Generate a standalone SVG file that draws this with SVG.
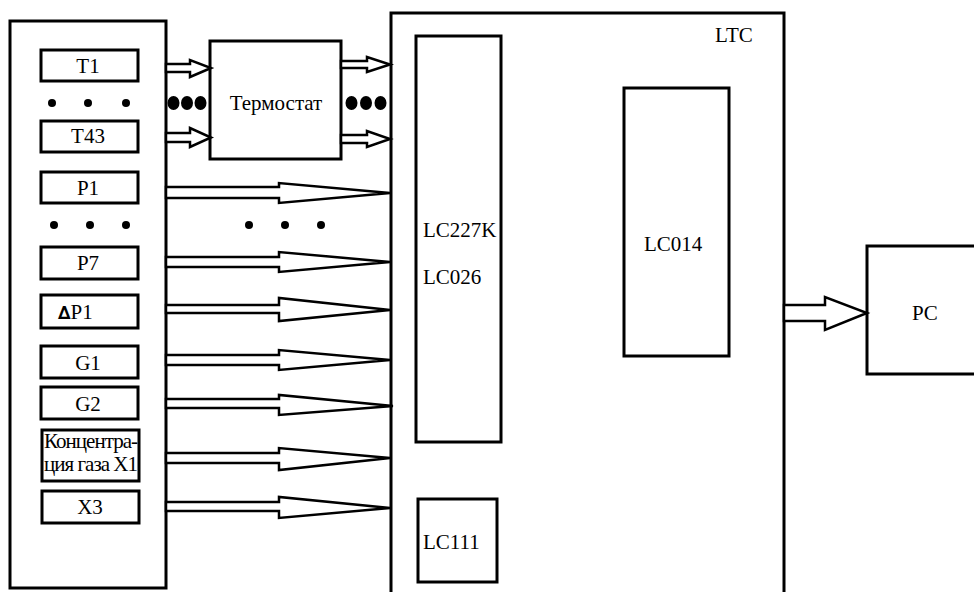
<svg xmlns="http://www.w3.org/2000/svg" width="974" height="592" viewBox="0 0 974 592">
<style>
.box{fill:#fff;stroke:#000;stroke-width:3}
.arr{fill:#fff;stroke:#000;stroke-width:2.5;stroke-linejoin:miter}
.t{font-family:"Liberation Serif","Times New Roman",Tinos,"DejaVu Serif",serif;font-size:21px;fill:#000}
.c{text-anchor:middle}
.dot{fill:#000}
</style>
<rect width="974" height="592" fill="#fff"/>
<g id="sensors">
<rect class="box" x="10" y="21" width="156" height="567"/>
</g>
<g id="ltc">
<rect class="box" x="391" y="13" width="393" height="600"/>
<text class="t" x="715" y="42">LTC</text>
</g>
<g id="T1"><rect class="box" x="41" y="50" width="97" height="31"/><text class="t c" x="88" y="73">T1</text></g>
<g id="T43"><rect class="box" x="41" y="121" width="97" height="31"/><text class="t c" x="88" y="143">T43</text></g>
<g id="P1"><rect class="box" x="41" y="172" width="97" height="31"/><text class="t c" x="88" y="195">P1</text></g>
<g id="P7"><rect class="box" x="41" y="247" width="97" height="32"/><text class="t c" x="88" y="270">P7</text></g>
<g id="dP1"><rect class="box" x="41" y="295" width="97" height="33"/><text class="t" x="58" y="319"><tspan font-family="DejaVu Sans" font-weight="bold" font-size="18">∆</tspan>P1</text></g>
<g id="G1"><rect class="box" x="41" y="346" width="97" height="32"/><text class="t c" x="88" y="370">G1</text></g>
<g id="G2"><rect class="box" x="41" y="387" width="97" height="32"/><text class="t c" x="88" y="411">G2</text></g>
<g id="X1"><rect class="box" x="42" y="430" width="97" height="51" stroke-width="3.5"/><text class="t" font-size="17" x="44" y="448" textLength="94">Концентра-</text><text class="t" font-size="17" x="44" y="471" textLength="94">ция газа X1</text></g>
<g id="X3"><rect class="box" x="42" y="491" width="97" height="32"/><text class="t c" x="90" y="514">X3</text></g>
<g id="thermostat"><rect class="box" x="210" y="41" width="131" height="118"/><text class="t c" x="276" y="110">Термостат</text></g>
<g id="LC227K"><rect class="box" x="416" y="36" width="85" height="406"/><text class="t" x="423" y="237">LC227K</text><text class="t" x="423" y="284">LC026</text></g>
<g id="LC014"><rect class="box" x="624" y="88" width="105" height="268"/><text class="t" x="644" y="251">LC014</text></g>
<g id="LC111"><rect class="box" x="418" y="499" width="79" height="83"/><text class="t" x="423" y="549">LC111</text></g>
<g id="PC"><rect class="box" x="867" y="246" width="120" height="128"/><text class="t" x="912" y="320">PC</text></g>
<g id="connectors">
<polygon class="arr" points="166,64 190,64 190,60 211,68 190,77 190,72 166,72"/>
<polygon class="arr" points="166,133 190,133 190,128 211,137.5 190,147 190,142 166,142"/>
<polygon class="arr" points="341,61 367,61 367,57 390,64.5 367,72 367,68 341,68"/>
<polygon class="arr" points="341,135 367,135 367,131 390,139 367,147 367,143 341,143"/>
<polygon class="arr" points="166,187 279,187 279,183 390,193 279,203 279,198 166,198"/>
<polygon class="arr" points="166,257 279,257 279,252 390,262 279,272 279,267 166,267"/>
<polygon class="arr" points="166,305 279,305 279,298 390,310 279,321 279,313 166,313"/>
<polygon class="arr" points="166,355 279,355 279,350 390,360 279,370 279,365 166,365"/>
<polygon class="arr" points="166,399 279,399 279,395 393,406 279,415 279,408 166,408"/>
<polygon class="arr" points="166,453 279,453 279,448 390,458 279,470 279,463 166,463"/>
<polygon class="arr" points="166,502 279,502 279,497 390,508 279,518 279,511 166,511"/>
<polygon class="arr" points="784,305 825,305 825,297 867,313 825,330 825,321 784,321" stroke-width="3"/>
</g>
<g id="dots">
<circle class="dot" cx="52" cy="103" r="4"/><circle class="dot" cx="88" cy="103" r="4"/><circle class="dot" cx="126" cy="103" r="4"/>
<circle class="dot" cx="54" cy="225" r="4"/><circle class="dot" cx="90" cy="225" r="4"/><circle class="dot" cx="126" cy="225" r="4"/>
<circle class="dot" cx="249" cy="225" r="4"/><circle class="dot" cx="285" cy="225" r="4"/><circle class="dot" cx="321" cy="225" r="4"/>
<ellipse class="dot" cx="173.5" cy="103" rx="6" ry="7"/><ellipse class="dot" cx="187" cy="103" rx="6" ry="7"/><ellipse class="dot" cx="200.5" cy="103" rx="6" ry="7"/>
<ellipse class="dot" cx="351.5" cy="103" rx="6" ry="7"/><ellipse class="dot" cx="366" cy="103" rx="6" ry="7"/><ellipse class="dot" cx="380.5" cy="103" rx="6" ry="7"/>
</g>
</svg>
